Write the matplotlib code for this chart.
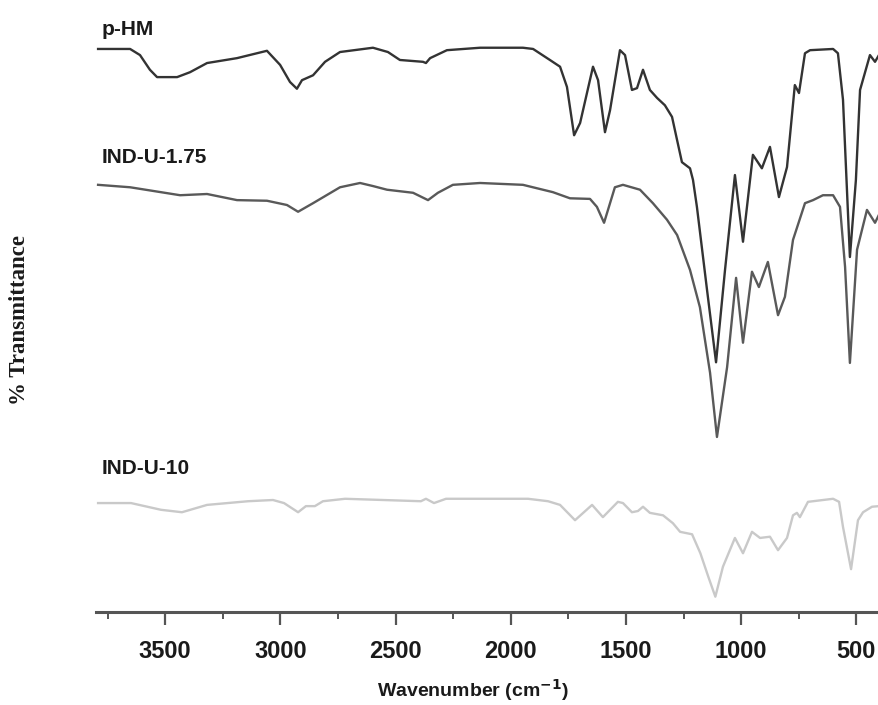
import matplotlib
matplotlib.use("Agg")
import matplotlib.pyplot as plt
from matplotlib.ticker import MultipleLocator

# ---------------- data (offset % transmittance vs wavenumber) ----------------
phm_wn = [3791, 3652, 3609, 3566, 3535, 3448, 3392, 3318, 3188, 3058, 3001, 2958,
          2928, 2906, 2858, 2806, 2741, 2598, 2533, 2481,
          2381, 2368, 2350, 2277, 2133, 1947, 1903, 1830, 1786, 1756, 1725, 1699,
          1643, 1621, 1591, 1569, 1526, 1504, 1474, 1452, 1426, 1396, 1365, 1331,
          1300, 1278, 1257, 1222, 1209, 1192, 1148, 1109, 1070, 1027, 992, 949,
          910, 875, 836, 801, 767, 749, 723, 701, 601, 580, 558, 528, 502, 484,
          441, 419, 402]
phm_t = [92.0, 92.0, 91.0, 88.6, 87.4, 87.4, 88.2, 89.7, 90.5, 91.7, 89.4, 86.6,
         85.5, 86.9, 87.7, 89.9, 91.5, 92.2, 91.5, 90.2,
         89.9, 89.7, 90.5, 91.8, 92.2, 92.2, 92.0, 90.2, 89.1, 85.8, 77.9, 79.9,
         89.1, 86.9, 78.4, 82.0, 91.8, 91.0, 85.3, 85.6, 88.6, 85.3, 84.0, 82.8,
         80.9, 77.1, 73.5, 72.5, 70.6, 66.2, 52.6, 40.8, 55.9, 71.4, 60.5, 74.7,
         72.5, 76.0, 67.8, 72.7, 86.1, 84.8, 91.3, 91.8, 92.0, 91.3, 83.7, 58.0,
         70.6, 85.3, 91.0, 89.9, 91.0]

ind175_wn = [3791, 3652, 3435, 3318, 3188, 3058, 2971, 2923, 2858, 2741, 2654, 2598,
             2537, 2424, 2359, 2316, 2251, 2133, 1947, 1817, 1743, 1656, 1626, 1595,
             1548, 1513, 1439, 1383, 1322, 1278, 1222, 1179, 1135, 1105, 1061, 1022,
             992, 953, 923, 884, 840, 810, 775, 723, 688, 645, 601, 571, 549, 528,
             497, 454, 419, 402]
ind175_t = [69.8, 69.4, 68.1, 68.3, 67.3, 67.2, 66.5, 65.4, 66.8, 69.4, 70.1, 69.6,
            69.0, 68.5, 67.3, 68.5, 69.8, 70.1, 69.8, 68.6, 67.6, 67.5, 66.2, 63.6,
            69.4, 69.8, 69.0, 66.8, 64.1, 61.6, 55.9, 49.8, 39.1, 28.6, 40.0, 54.6,
            44.0, 55.6, 53.1, 57.2, 48.5, 51.5, 60.8, 66.8, 67.3, 68.1, 68.1, 66.2,
            56.4, 40.7, 59.2, 65.7, 63.6, 64.9]

ind10_wn = [3791, 3648, 3518, 3427, 3318, 3140, 3032, 2984, 2923, 2889, 2850, 2815,
            2719, 2390, 2368, 2333, 2281, 1925, 1838, 1786, 1721, 1647, 1600, 1535,
            1513, 1474, 1448, 1426, 1396, 1339, 1296, 1265, 1213, 1177, 1142, 1112,
            1079, 1027, 992, 953, 918, 875, 840, 801, 775, 758, 745, 710, 601, 575,
            558, 523, 493, 471, 432, 402]
ind10_t = [17.8, 17.8, 16.7, 16.3, 17.5, 18.1, 18.3, 17.8, 16.3, 17.3, 17.3, 18.1,
           18.5, 18.1, 18.5, 17.8, 18.5, 18.5, 18.1, 17.5, 15.0, 17.5, 15.5, 18.0,
           17.8, 16.3, 16.5, 17.2, 16.2, 15.8, 14.5, 13.1, 12.7, 9.6, 5.7, 2.5,
           7.4, 12.1, 9.6, 13.1, 12.1, 12.3, 10.1, 12.1, 15.8, 16.2, 15.5, 18.0,
           18.5, 18.0, 13.9, 7.0, 15.0, 16.3, 17.2, 17.3]

series_names = ["p-HM", "IND-U-1.75", "IND-U-10"]
label_y = [95.2, 74.3, 23.5]
series_colors = ["#333333", "#595959", "#c9c9c9"]

x_ticks = [3500, 3000, 2500, 2000, 1500, 1000, 500]

# ---------------- figure ----------------
fig = plt.figure(figsize=(8.79, 7.05), dpi=100)
ax = fig.add_axes([96 / 879, 93 / 705, 783.4 / 879, 612 / 705])

data = [(phm_wn, phm_t), (ind175_wn, ind175_t), (ind10_wn, ind10_t)]
for (wn, t), c in zip(data, series_colors):
    ax.plot(wn, t, color=c, lw=1.7, solid_joinstyle="round", clip_on=False)

for name, ly in zip(series_names, label_y):
    ax.text(3775, ly, name, fontsize=15, fontweight="bold",
            family="Liberation Sans", color="#1a1a1a", va="center", ha="left")

ax.set_xlim(3800, 400)
ax.set_ylim(0, 100)

for s in ["top", "right", "left"]:
    ax.spines[s].set_visible(False)
ax.spines["bottom"].set_color("#555555")
ax.spines["bottom"].set_linewidth(2.2)
ax.set_yticks([])

ax.set_xticks(x_ticks)
ax.xaxis.set_minor_locator(MultipleLocator(250))
ax.tick_params(axis="x", which="major", direction="out", length=9, width=1.6,
               color="#555555", pad=11)
ax.tick_params(axis="x", which="minor", direction="out", length=5, width=1.4,
               color="#555555")
for lbl in ax.get_xticklabels():
    lbl.set_fontfamily("Liberation Sans")
    lbl.set_fontweight("bold")
    lbl.set_fontsize(17)
    lbl.set_color("#1a1a1a")

fig.text(473 / 879, 1 - 690 / 705, "Wavenumber (cm$^{\\mathbf{-1}}$)", ha="center", va="center",
         fontsize=14, fontweight="bold", family="Liberation Sans", color="#1a1a1a")
fig.text(20 / 879, 1 - 320 / 705, "% Transmittance", rotation=90, ha="center", va="center",
         fontsize=16.5, fontweight="bold", family="Liberation Serif", color="#1a1a1a")

fig.savefig("out.png", dpi=100)
